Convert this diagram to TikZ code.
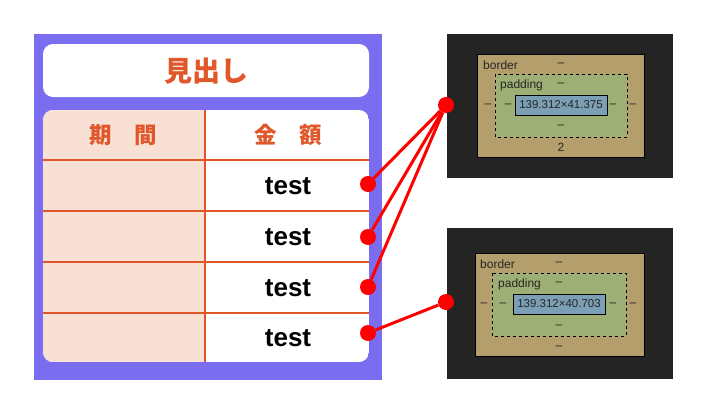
\documentclass[tikz,border=0pt]{standalone}
\usepackage{fontspec}
\setmainfont{Liberation Sans}
\newfontfamily\jpfont{Noto Sans CJK JP}
\definecolor{purplebg}{HTML}{7A6DEF}
\definecolor{orangetx}{HTML}{E0572A}
\definecolor{peach}{HTML}{F8E0D4}
\definecolor{gridline}{HTML}{E0552A}
\definecolor{dotred}{HTML}{FF0000}
\definecolor{panelbg}{HTML}{242424}
\definecolor{bordertan}{HTML}{B39E6C}
\definecolor{padgreen}{HTML}{9DAF74}
\definecolor{contentblue}{HTML}{7B9FB5}
\definecolor{paneltx}{HTML}{262626}
\begin{document}
\begin{tikzpicture}[x=1pt,y=-1pt,
  dot/.style={circle,fill=dotred,inner sep=0pt,minimum size=16pt},
  link/.style={draw=dotred,line width=3pt},
  grid/.style={draw=gridline,line width=2pt},
  jptitle/.style={font=\jpfont\bfseries\fontsize{28}{28}\selectfont,text=orangetx,inner sep=0pt},
  jphead/.style={font=\jpfont\bfseries\fontsize{22.5}{22.5}\selectfont,text=orangetx,inner sep=0pt},
  testtx/.style={font=\bfseries\fontsize{26}{26}\selectfont,text=black,inner sep=0pt},
  ptx/.style={font=\fontsize{12}{12}\selectfont,text=paneltx,inner sep=0pt},
  contentbox/.style={draw=black,line width=1pt,fill=contentblue,inner sep=0pt,
    minimum width=92pt,minimum height=20pt,font=\fontsize{11.5}{11.5}\selectfont,text=paneltx},
  borderbox/.style={fill=bordertan,draw=black,line width=1pt},
  padbox/.style={fill=padgreen,draw=black,dashed,line width=0.8pt}
]
\useasboundingbox (0,0) rectangle (717,410);
% left purple card
\fill[purplebg] (34,34) rectangle (382,380);
\fill[white,rounded corners=10pt] (43,44) rectangle (369,97);
\node[jptitle] (title) at (206,71) {見出し};
\begin{scope}
  \clip[rounded corners=10pt] (43,110) rectangle (369,362);
  \fill[white] (43,110) rectangle (369,362);
  \fill[peach] (43,110) rectangle (205,362);
  \draw[grid] (43,160) -- (369,160);
  \draw[grid] (43,211) -- (369,211);
  \draw[grid] (43,262) -- (369,262);
  \draw[grid] (43,313) -- (369,313);
  \draw[grid] (205,110) -- (205,362);
\end{scope}
\node[jphead] (h1) at (123,135) {期　間};
\node[jphead] (h2) at (288,135) {金　額};
\node[testtx] (t1) at (288,186) {test};
\node[testtx] (t2) at (288,237) {test};
\node[testtx] (t3) at (288,288) {test};
\node[testtx] (t4) at (288,338) {test};
% panel 1
\fill[panelbg] (447,34) rectangle (673,178);
\filldraw[borderbox] (477,54) rectangle (644,157);
\filldraw[padbox] (495,74) rectangle (627,137);
\node[contentbox] (c1) at (561,105) {139.312×41.375};
\node[ptx,anchor=west] (b1) at (483,65) {border};
\node[ptx] (b1t) at (561,65) {–};
\node[ptx,anchor=west] (pd1) at (500,85) {padding};
\node[ptx] (pd1t) at (561,85) {–};
\node[ptx] (l1a) at (488,106) {–};
\node[ptx] (l1b) at (508,106) {–};
\node[ptx] (r1a) at (613,106) {–};
\node[ptx] (r1b) at (633,106) {–};
\node[ptx] (pd1b) at (561,127) {–};
\node[ptx] (b1b) at (561,147) {2};
% panel 2
\fill[panelbg] (447,228) rectangle (673,379);
\filldraw[borderbox] (475,253) rectangle (644,356);
\filldraw[padbox] (492,273) rectangle (626,336);
\node[contentbox] (c2) at (559,304) {139.312×40.703};
\node[ptx,anchor=west] (b2) at (480,264) {border};
\node[ptx] (b2t) at (559,264) {–};
\node[ptx,anchor=west] (pd2) at (498,284) {padding};
\node[ptx] (pd2t) at (559,284) {–};
\node[ptx] (l2a) at (484,305) {–};
\node[ptx] (l2b) at (503,305) {–};
\node[ptx] (r2a) at (613,305) {–};
\node[ptx] (r2b) at (633,305) {–};
\node[ptx] (pd2b) at (559,327) {–};
\node[ptx] (b2b) at (559,348) {–};
% dots and links
\node[dot] (d1) at (368,184) {};
\node[dot] (d2) at (368,237) {};
\node[dot] (d3) at (368,287) {};
\node[dot] (d4) at (368,333) {};
\node[dot] (p1) at (446,105) {};
\node[dot] (p2) at (446,302) {};
\draw[link] (p1) -- (d1);
\draw[link] (p1) -- (d2);
\draw[link] (p1) -- (d3);
\draw[link] (p2) -- (d4);
\end{tikzpicture}
\end{document}
